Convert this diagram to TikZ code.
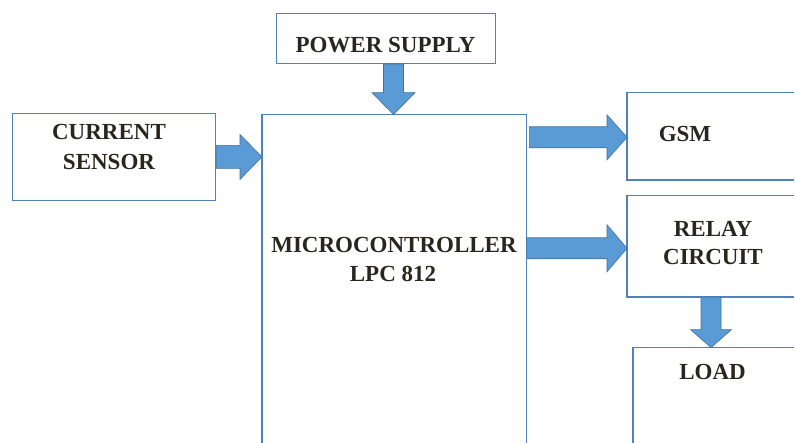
\documentclass[tikz,border=0pt]{standalone}
\usepackage{fontspec}
\setmainfont{Liberation Serif}
\usetikzlibrary{calc}
\definecolor{boxline}{RGB}{79,129,189}
\definecolor{arrfill}{RGB}{91,155,213}
\definecolor{arrline}{RGB}{65,113,156}
\definecolor{txt}{RGB}{40,38,30}
\tikzset{
  box/.style={draw=boxline, line width=1.1pt, rectangle, inner sep=0pt, anchor=south west},
  openbox/.style={rectangle, inner sep=0pt, anchor=south west},
  boxedge/.style={draw=boxline, line width=1.1pt},
  lbl/.style={text=txt, font=\fontsize{23}{29}\selectfont\bfseries, anchor=base, inner sep=0pt},
  blockarrow/.style={fill=arrfill, draw=arrline, line width=0.6pt, line join=miter}
}
% horizontal block arrow: start, end, shaft half width, head half width, head length
\newcommand{\hblock}[5]{%
  \path[blockarrow] let \p1=#1, \p2=#2 in
    (\x1,\y1+#3pt) -- (\x2-#5pt,\y1+#3pt) -- (\x2-#5pt,\y1+#4pt) -- (\x2,\y1)
    -- (\x2-#5pt,\y1-#4pt) -- (\x2-#5pt,\y1-#3pt) -- (\x1,\y1-#3pt) -- cycle;}
% vertical (downward) block arrow
\newcommand{\vblock}[5]{%
  \path[blockarrow] let \p1=#1, \p2=#2 in
    (\x1-#3pt,\y1) -- (\x1-#3pt,\y2+#5pt) -- (\x1-#4pt,\y2+#5pt) -- (\x1,\y2)
    -- (\x1+#4pt,\y2+#5pt) -- (\x1+#3pt,\y2+#5pt) -- (\x1+#3pt,\y1) -- cycle;}
\begin{document}
\begin{tikzpicture}[x=1pt,y=1pt]
\useasboundingbox (0,0) rectangle (795,443);
\fill[white] (0,0) rectangle (795,443);

% boxes (those cut by the picture's edge end at the edge)
\node[box, minimum width=219pt, minimum height=50pt] (ps) at (276,379) {};
\node[openbox, minimum width=264pt, minimum height=328pt] (mc) at (262,0) {};
\node[box, minimum width=203pt, minimum height=87pt] (cs) at (12,242) {};
\node[openbox, minimum width=167pt, minimum height=87pt] (gsm) at (627,263) {};
\node[openbox, minimum width=167pt, minimum height=101pt] (relay) at (627,146) {};
\node[openbox, minimum width=161pt, minimum height=95pt] (load) at (633,0) {};
\draw[boxedge] (mc.south west) -- (mc.north west) -- (mc.north east) -- (mc.south east);
\draw[boxedge] (gsm.north east) -- (gsm.north west) -- (gsm.south west) -- (gsm.south east);
\draw[boxedge] (relay.north east) -- (relay.north west) -- (relay.south west) -- (relay.south east);
\draw[boxedge] (load.north east) -- (load.north west) -- (load.south west);

% labels
\node[lbl] (tps) at (385.5,390) {POWER SUPPLY};
\node[lbl] (tmc1) at (394,190) {MICROCONTROLLER};
\node[lbl] (tmc2) at (393,161) {LPC 812};
\node[lbl] (tcs1) at (109,303) {CURRENT};
\node[lbl] (tcs2) at (109,273) {SENSOR};
\node[lbl] (tgsm) at (685,301) {GSM};
\node[lbl] (trl1) at (713,206) {RELAY};
\node[lbl] (trl2) at (713,178) {CIRCUIT};
\node[lbl] (tld) at (712.5,63) {LOAD};

% connector anchor points
\coordinate (psout) at ($(ps.south west)+(117.5,0)$);
\coordinate (gsmout) at ($(mc.east |- gsm.west)+(3,-1)$);
\coordinate (rlout) at ($(mc.east |- relay.west)+(0,-2)$);
\coordinate (ldout) at ($(relay.south west)+(84,0)$);

% block arrows
\vblock{(psout)}{(psout |- mc.north)}{10}{21.5}{22}
\hblock{(cs.east)}{(mc.west |- cs.east)}{11.5}{22.5}{22}
\hblock{(gsmout)}{(gsm.west |- gsmout)}{10.5}{22.5}{20}
\hblock{(rlout)}{(relay.west |- rlout)}{10.5}{23.5}{20}
\vblock{(ldout)}{(ldout |- load.north)}{10}{20.5}{18}
\end{tikzpicture}
\end{document}
